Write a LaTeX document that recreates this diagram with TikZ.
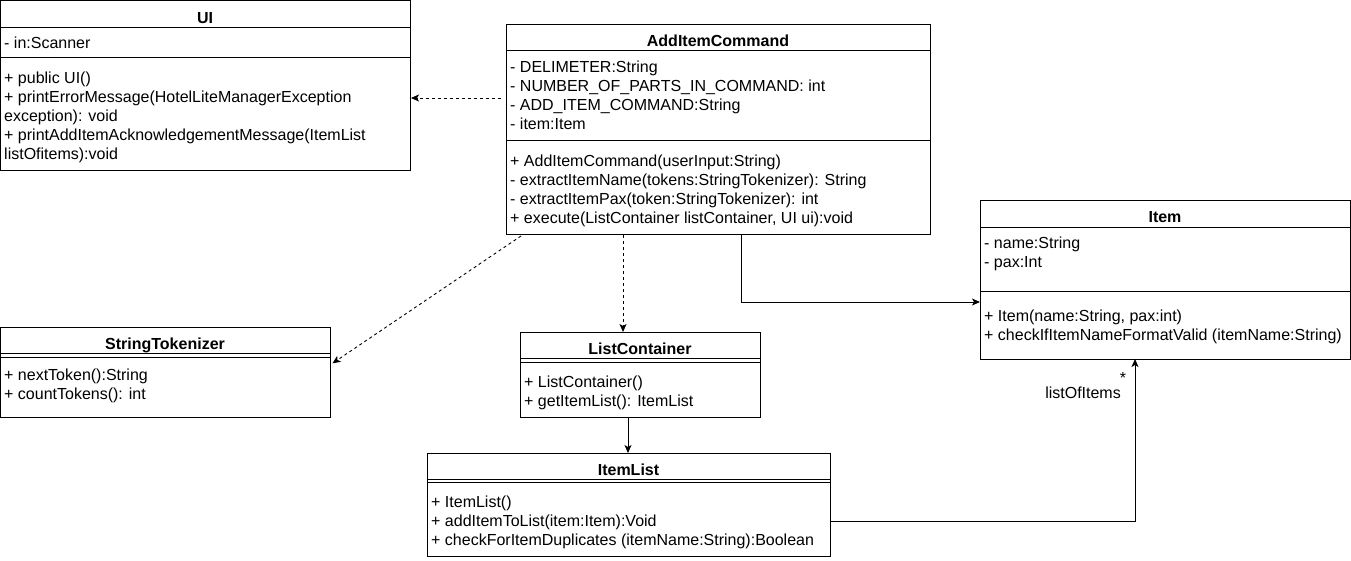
\documentclass[tikz,border=0pt]{standalone}
\usepackage{fontspec}
\setmainfont{Liberation Sans}
\usetikzlibrary{arrows.meta}
\tikzset{
  classbox/.style={draw, line width=1pt, inner sep=0pt, outer sep=0pt, anchor=north west},
  member/.style={anchor=base west, inner sep=0pt, font=\fontsize{16}{19}\selectfont},
  classname/.style={anchor=base, inner sep=0pt, font=\fontsize{16}{19}\selectfont\bfseries},
  rolelabel/.style={inner sep=0pt, font=\fontsize{16}{19}\selectfont},
  rule/.style={line width=1pt},
  tip/.style={-{Stealth[length=8pt,width=7pt,inset=2pt]}},
  depend/.style={tip, line width=0.9pt, dash pattern=on 3pt off 3pt},
  assoc/.style={tip, line width=1pt},
}
\begin{document}
\begin{tikzpicture}[x=1pt,y=-1pt]
\useasboundingbox (0,0) rectangle (1351,560);

% ---------- UI ----------
\node[classbox, minimum width=409.5pt, minimum height=169.5pt] (ui) at (0.5,0.5) {};
\draw[rule] (0.5,27) -- (410,27);
\draw[rule] (0.5,57) -- (410,57);
\node[classname] (uit) at (205,23) {UI};
\node[member] (ui1) at (4,48.5) {- in:Scanner};
\node[member] (ui2) at (4,83.5) {+ public UI()};
\node[member] (ui3) at (4,102.5) {+ printErrorMessage(HotelLiteManagerException};
\node[member] (ui4) at (4,121.5) {exception): void};
\node[member] (ui5) at (4,140.5) {+ printAddItemAcknowledgementMessage(ItemList};
\node[member] (ui6) at (4,159.5) {listOfitems):void};

% ---------- AddItemCommand ----------
\node[classbox, minimum width=424pt, minimum height=210pt] (aic) at (506,24) {};
\draw[rule] (506,50) -- (930,50);
\draw[rule] (506,140) -- (930,140);
\node[classname] (aict) at (718,46) {AddItemCommand};
\node[member] (aic1) at (510,72) {- DELIMETER:String};
\node[member] (aic2) at (510,91) {- NUMBER\_OF\_PARTS\_IN\_COMMAND: int};
\node[member] (aic3) at (510,110) {- ADD\_ITEM\_COMMAND:String};
\node[member] (aic4) at (510,129) {- item:Item};
\node[member] (aic5) at (510,166.5) {+ AddItemCommand(userInput:String)};
\node[member] (aic6) at (510,185.5) {- extractItemName(tokens:StringTokenizer): String};
\node[member] (aic7) at (510,204.5) {- extractItemPax(token:StringTokenizer): int};
\node[member] (aic8) at (510,223.5) {+ execute(ListContainer listContainer, UI ui):void};

% ---------- Item ----------
\node[classbox, minimum width=370pt, minimum height=159pt] (item) at (980,200) {};
\draw[rule] (980,227) -- (1350,227);
\draw[rule] (980,291) -- (1350,291);
\node[classname] (itemt) at (1165,222) {Item};
\node[member] (item1) at (984,248.5) {- name:String};
\node[member] (item2) at (984,267.5) {- pax:Int};
\node[member] (item3) at (984,321.5) {+ Item(name:String, pax:int)};
\node[member] (item4) at (984,340.5) {+ checkIfItemNameFormatValid (itemName:String)};

% ---------- StringTokenizer ----------
\node[classbox, minimum width=329.5pt, minimum height=90pt] (st) at (0.5,327) {};
\draw[rule] (0.5,353) -- (330,353);
\draw[rule] (0.5,357) -- (330,357);
\node[classname] (stt) at (165,349) {StringTokenizer};
\node[member] (st1) at (4,380.5) {+ nextToken():String};
\node[member] (st2) at (4,399.5) {+ countTokens(): int};

% ---------- ListContainer ----------
\node[classbox, minimum width=240pt, minimum height=85pt] (lc) at (520,332) {};
\draw[rule] (520,358.5) -- (760,358.5);
\draw[rule] (520,362) -- (760,362);
\node[classname] (lct) at (640,354) {ListContainer};
\node[member] (lc1) at (524,387.5) {+ ListContainer()};
\node[member] (lc2) at (524,406.5) {+ getItemList(): ItemList};

% ---------- ItemList ----------
\node[classbox, minimum width=403pt, minimum height=103pt] (il) at (427,453) {};
\draw[rule] (427,479) -- (830,479);
\draw[rule] (427,482.5) -- (830,482.5);
\node[classname] (ilt) at (628.5,475) {ItemList};
\node[member] (il1) at (431,507.5) {+ ItemList()};
\node[member] (il2) at (431,526.5) {+ addItemToList(item:Item):Void};
\node[member] (il3) at (431,545.5) {+ checkForItemDuplicates (itemName:String):Boolean};

% ---------- connectors ----------
\coordinate (d1) at (501,98);
\draw[depend, shorten >=1pt] (d1) -- (ui.east |- d1);

\coordinate (d2) at (521,236);
\draw[depend, shorten >=3pt] (d2) -- ([yshift=7pt]st.east);

\coordinate (d3) at (623,235);
\draw[depend] (d3) -- (d3 |- lc.north);

\coordinate (a1) at (741,234);
\draw[assoc] (a1) |- ([yshift=-22.5pt]item.west);

\coordinate (a2) at (628,417);
\draw[assoc] (a2) -- (a2 |- il.north);

\draw[assoc] ([yshift=-16.5pt]il.east) -| ([xshift=-30pt]item.south);

\node[rolelabel, anchor=base] (star) at (1123,383) {*};
\node[rolelabel, anchor=base east] (role) at (1121,398) {listOfItems};

\end{tikzpicture}
\end{document}
